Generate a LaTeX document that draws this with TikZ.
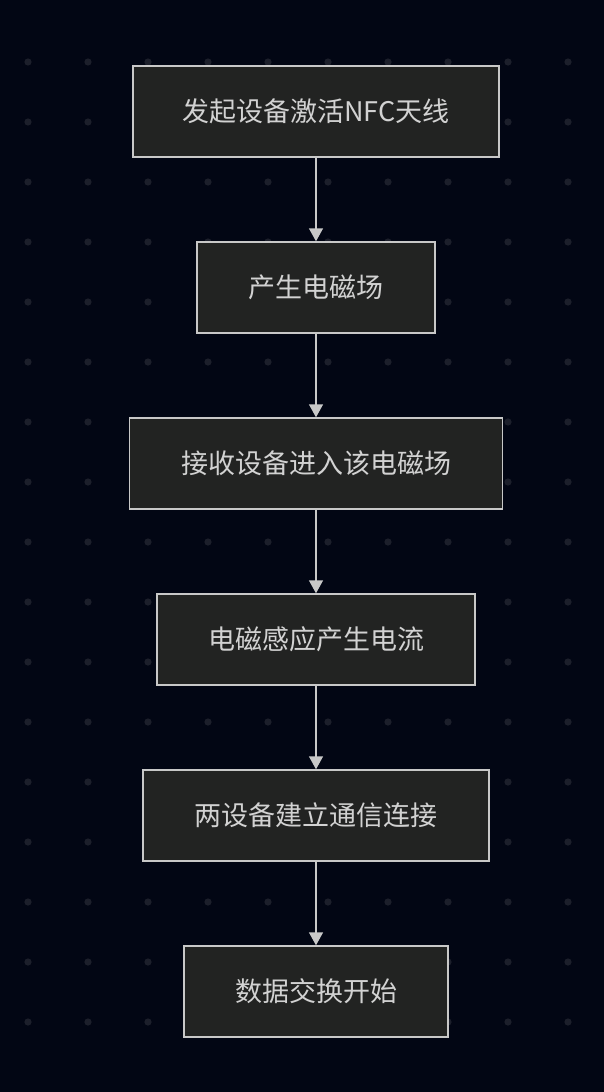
\documentclass[tikz,border=0pt]{standalone}
\usepackage{fontspec}
\usetikzlibrary{arrows.meta,positioning}
\newfontfamily\cjk{Noto Sans CJK SC}
\definecolor{bgnavy}{HTML}{020614}
\definecolor{dotgray}{HTML}{1C1F2B}
\definecolor{boxfill}{HTML}{222322}
\definecolor{boxline}{HTML}{C8C8C8}
\definecolor{txt}{HTML}{D2D2D2}

\begin{document}
\begin{tikzpicture}[x=1pt,y=1pt,
  stepbox/.style={draw=boxline,fill=boxfill,line width=1.4pt,
             minimum height=91pt,inner xsep=0pt,
             font=\cjk\fontsize{27}{31}\selectfont,text=txt},
  flow/.style={-{Triangle[width=14pt,length=13pt]},line width=1.4pt,color=boxline}
]
% background and dot grid
\fill[bgnavy] (0,0) rectangle (604,-1092);
\foreach \i in {0,...,9}
  \foreach \j in {0,...,16}
    \fill[dotgray] (28+60*\i,-62-60*\j) circle (3.6pt);

\node[stepbox,minimum width=366pt] (activate) at (316,-111.5) {发起设备激活NFC天线};
\node[stepbox,minimum width=238pt] (field)    at (316,-287.5) {产生电磁场};
\node[stepbox,minimum width=373pt] (enter)    at (316,-463.5) {接收设备进入该电磁场};
\node[stepbox,minimum width=318pt] (induce)   at (316,-639.5) {电磁感应产生电流};
\node[stepbox,minimum width=346pt] (link)     at (316,-815.5) {两设备建立通信连接};
\node[stepbox,minimum width=264pt] (exchange) at (316,-991.5) {数据交换开始};

% arrows down the chain
\draw[flow] (activate) -- (field);
\draw[flow] (field) -- (enter);
\draw[flow] (enter) -- (induce);
\draw[flow] (induce) -- (link);
\draw[flow] (link) -- (exchange);
\end{tikzpicture}
\end{document}
